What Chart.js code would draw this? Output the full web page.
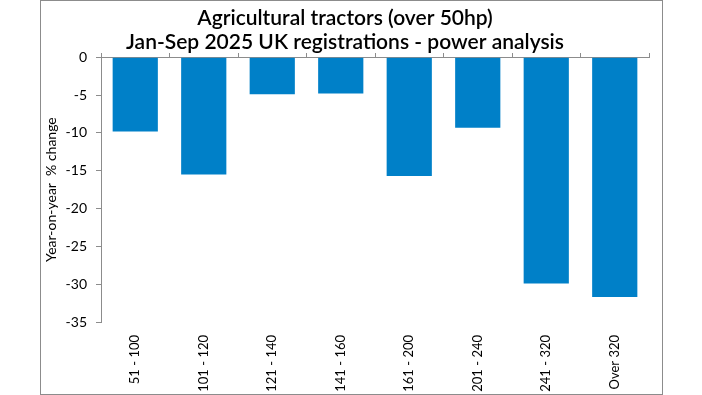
<!DOCTYPE html>
<html><head><meta charset="utf-8">
<script src="https://cdn.jsdelivr.net/npm/chart.js@4/dist/chart.umd.min.js"></script>
<style>
html,body{margin:0;padding:0;background:#fff;}
#box{position:absolute;left:40px;top:0px;width:621px;height:393px;border:1px solid #8c8c8c;}
canvas{display:block;}
</style></head><body>
<div id="box"><canvas id="c" width="621" height="393"></canvas></div>
<script>
const categories = ["51 - 100","101 - 120","121 - 140","141 - 160","161 - 200","201 - 240","241 - 320","Over 320"];
const changePct = [-9.8,-15.5,-4.9,-4.8,-15.7,-9.3,-29.9,-31.7];
const titleLines = ["Agricultural tractors (over 50hp)","Jan-Sep 2025 UK registrations - power analysis"];
const yTitle = "Year-on-year  % change";

const FONT = "Lato, 'Noto Sans', sans-serif";
new Chart(document.getElementById('c'), {
  type: 'bar',
  data: { labels: categories, datasets: [{ data: changePct, backgroundColor: '#0080C8', borderWidth: 0, barPercentage: 0.66, categoryPercentage: 1, xAxisID: 'x' }] },
  options: {
    responsive: false, animation: false,
    layout: { padding: { left: 0, right: 13, top: 0, bottom: 0 } },
    plugins: {
      legend: { display: false }, tooltip: { enabled: false },
      title: { display: true, text: titleLines, color: '#000', font: { family: FONT, size: 21, weight: '600', lineHeight: 1.15 }, padding: { top: 5, bottom: 3 } }
    },
    scales: {
      x: {
        type: 'category', labels: categories, position: 'bottom', offset: true,
        grid: { display: false }, border: { display: false },
        ticks: { color: '#000', font: { family: FONT, size: 13 }, minRotation: 90, maxRotation: 90, padding: 5, autoSkip: false },
        afterFit: s => { s.height = 72; }
      },
      x0: {
        type: 'category', labels: categories, position: { y: 0 }, offset: true,
        grid: { display: true, drawOnChartArea: false, drawTicks: true, tickLength: -5, offset: true, color: '#8c8c8c' },
        border: { display: true, color: '#8c8c8c', width: 1 },
        ticks: { display: false }
      },
      y: {
        min: -35, max: 0,
        ticks: { stepSize: 5, color: '#000', font: { family: FONT, size: 14 }, padding: 9 },
        grid: { display: true, drawOnChartArea: false, drawTicks: true, tickLength: 5, color: '#8c8c8c' },
        border: { display: true, color: '#8c8c8c' },
        title: { display: true, text: yTitle, color: '#000', font: { family: FONT, size: 14 }, padding: { top: 2, bottom: 0 } },
        afterFit: s => { s.width = 60; }
      }
    }
  }
});
</script></body></html>
